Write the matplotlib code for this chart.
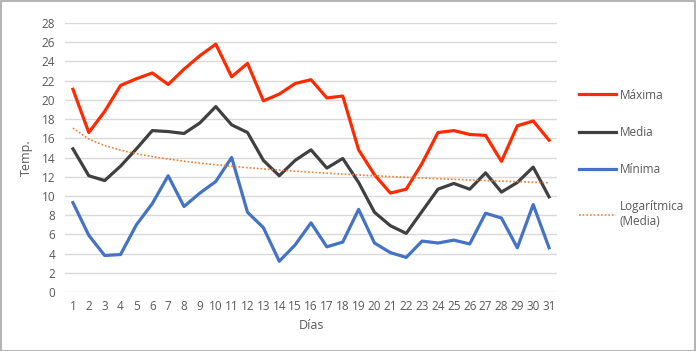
import numpy as np
import matplotlib
matplotlib.use("Agg")
import matplotlib.pyplot as plt

plt.rcParams['font.family'] = ['Open Sans', 'DejaVu Sans']

dias = np.arange(1, 32)
maxima = [21.1, 16.6, 18.8, 21.5, 22.2, 22.8, 21.6, 23.2, 24.6, 25.8, 22.4,
          23.8, 19.9, 20.6, 21.7, 22.1, 20.2, 20.4, 14.8, 12.2, 10.3, 10.7,
          13.4, 16.6, 16.8, 16.4, 16.3, 13.6, 17.3, 17.8, 15.8]
media = [14.9, 12.1, 11.6, 13.1, 14.9, 16.8, 16.7, 16.5, 17.6, 19.3, 17.4,
         16.6, 13.7, 12.1, 13.7, 14.8, 12.9, 13.9, 11.4, 8.3, 6.9, 6.1,
         8.4, 10.7, 11.3, 10.7, 12.4, 10.4, 11.4, 13.0, 9.9]
minima = [9.3, 5.9, 3.8, 3.9, 7.0, 9.2, 12.1, 8.9, 10.3, 11.5, 14.0,
          8.3, 6.7, 3.2, 4.9, 7.2, 4.7, 5.2, 8.6, 5.1, 4.1, 3.6,
          5.3, 5.1, 5.4, 5.0, 8.2, 7.7, 4.6, 9.1, 4.6]

# logarithmic trend of the mean
b, a = np.polyfit(np.log(dias), media, 1)
tendencia = a + b * np.log(dias)

gris = '#595959'
fig = plt.figure(figsize=(6.96, 3.51), dpi=100)
ax = fig.add_axes([65 / 696, 1 - 292 / 351, 492 / 696, 269 / 351])

l1, = ax.plot(dias, maxima, color='#FF2B00', lw=2.3, label='Máxima')
l2, = ax.plot(dias, media, color='#404040', lw=2.3, label='Media')
l3, = ax.plot(dias, minima, color='#4472C4', lw=2.3, label='Mínima')
l4, = ax.plot(dias, tendencia, color='#ED7D31', lw=1.2, ls=(0, (1, 1.2)),
              label='Logarítmica\n(Media)')

ax.set_xlim(0.5, 31.5)
ax.set_ylim(0, 28)
ax.set_xticks(dias)
ax.set_yticks(np.arange(0, 29, 2))
ax.grid(axis='y', color='#D9D9D9', lw=1)
ax.set_axisbelow(True)
for s in ax.spines.values():
    s.set_visible(False)
ax.tick_params(length=0, labelsize=8.5, labelcolor=gris)
ax.tick_params(axis='y', pad=7)
ax.tick_params(axis='x', pad=6)
ax.set_xlabel('Días', fontsize=9, color=gris, labelpad=4)
ax.set_ylabel('Temp.', fontsize=9, color=gris, labelpad=6)

fig.legend(handles=[l1, l2, l3, l4], loc='upper left',
           bbox_to_anchor=(568 / 696, 1 - 78 / 351), frameon=False,
           fontsize=8.5, labelcolor=gris, handlelength=3.2,
           labelspacing=2.05, handletextpad=0.3)

fig.patches.append(plt.Rectangle((0.001, 0.001), 0.997, 0.996,
                                 transform=fig.transFigure, fill=False,
                                 edgecolor='#A6A6A6', lw=1.2))

fig.savefig('out.png', dpi=100)
